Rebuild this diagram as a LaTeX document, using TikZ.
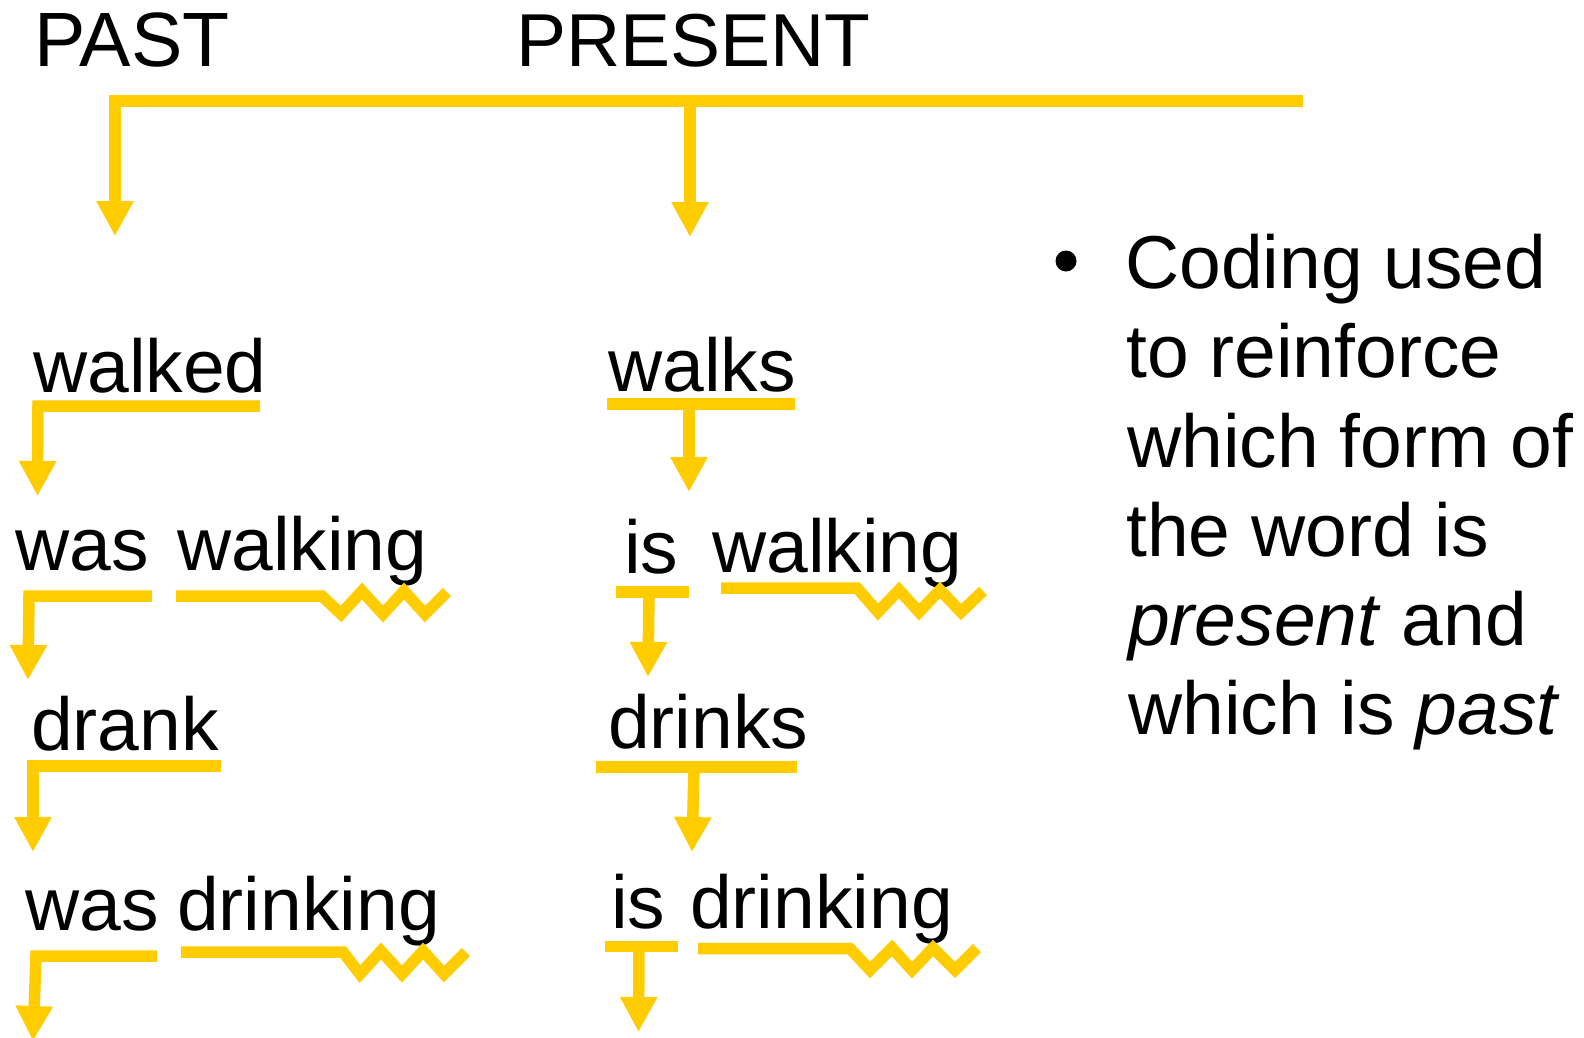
\documentclass[tikz,border=0pt]{standalone}
\usepackage{fontspec}
\setmainfont{Liberation Sans}
\usetikzlibrary{arrows.meta}
\definecolor{gold}{HTML}{FFCC00}
\begin{document}
\begin{tikzpicture}[x=1pt,y=-1pt,
  word/.style={anchor=base west, inner sep=0pt, font=\fontsize{75}{90}\selectfont},
  bar/.style={draw=gold, line width=11.5pt, line join=miter, miter limit=10},
  arr/.style={bar, -{Triangle[width=35pt,length=35pt]}},
]
\clip (0,0) rectangle (1584,1037);
\fill[white] (0,0) rectangle (1584,1037);

% headings
\node[word, font=\fontsize{77}{90}\selectfont] (past) at (34,66) {PAST};
\node[word] (present) at (516,66) {PRESENT};

% timeline
\draw[arr] (1303,101) -- (115,101) -- (115,236);
\draw[arr] (690,101) -- (690,237);

% past column
\node[word] (walked) at (33,392) {walked};
\draw[arr] (260,406) -- (38,406) -- (37.5,496);

\node[word] (was1) at (15,570) {was};
\node[word] (walking1) at (177,570) {walking};
\draw[arr] (152,596) -- (29,596) -- (28,680);
\draw[bar] (176,596) -- (322,596) -- (341,614) -- (362,591) -- (383,614) -- (404,591) -- (425,614) -- (447,592);

\node[word] (drank) at (31,750) {drank};
\draw[arr] (221,766) -- (33,766) -- (33,852);

\node[word] (was2) at (25,930) {was};
\node[word] (drinking1) at (177,930) {drinking};
\draw[arr] (157,956) -- (36,956) -- (33,1041);
\draw[bar] (181,952) -- (343,952) -- (360,974) -- (381,951) -- (402,974) -- (423,951) -- (444,974) -- (466,952);

% present column
\node[word] (walks) at (608,391) {walks};
\draw[bar] (607,404) -- (795,404);
\draw[arr] (689,404) -- (689,492);

\node[word] (is1) at (624,573) {is};
\node[word] (walking2) at (712,572) {walking};
\draw[bar] (616,592) -- (689,592);
\draw[arr] (649,592) -- (648,677);
\draw[bar] (721,588) -- (857,588) -- (878,612) -- (899,590) -- (919,612) -- (940,590) -- (961,612) -- (983,591);

\node[word] (drinks) at (608,748) {drinks};
\draw[bar] (596,767) -- (797,767);
\draw[arr] (694,767) -- (692,852);

\node[word] (is2) at (611,928) {is};
\node[word] (drinking2) at (690,928) {drinking};
\draw[bar] (605,946.5) -- (678,946.5);
\draw[arr] (639,946.5) -- (638.5,1032);
\draw[bar] (698,948.5) -- (850,948.5) -- (870,970) -- (892,948) -- (912,970) -- (933,948) -- (955,970) -- (977,948);

% bullet text
\fill (1066,261) circle (10.5pt);
\node[word] (l1) at (1125,288) {Coding used};
\node[word] (l2) at (1126,377) {to reinforce};
\node[word] (l3) at (1127,467) {which form of};
\node[word] (l4) at (1126,556) {the word is};
\node[word] (l5) at (1128,645) {\textit{present} and};
\node[word] (l6) at (1128,734) {which is \textit{past}};
\end{tikzpicture}
\end{document}
